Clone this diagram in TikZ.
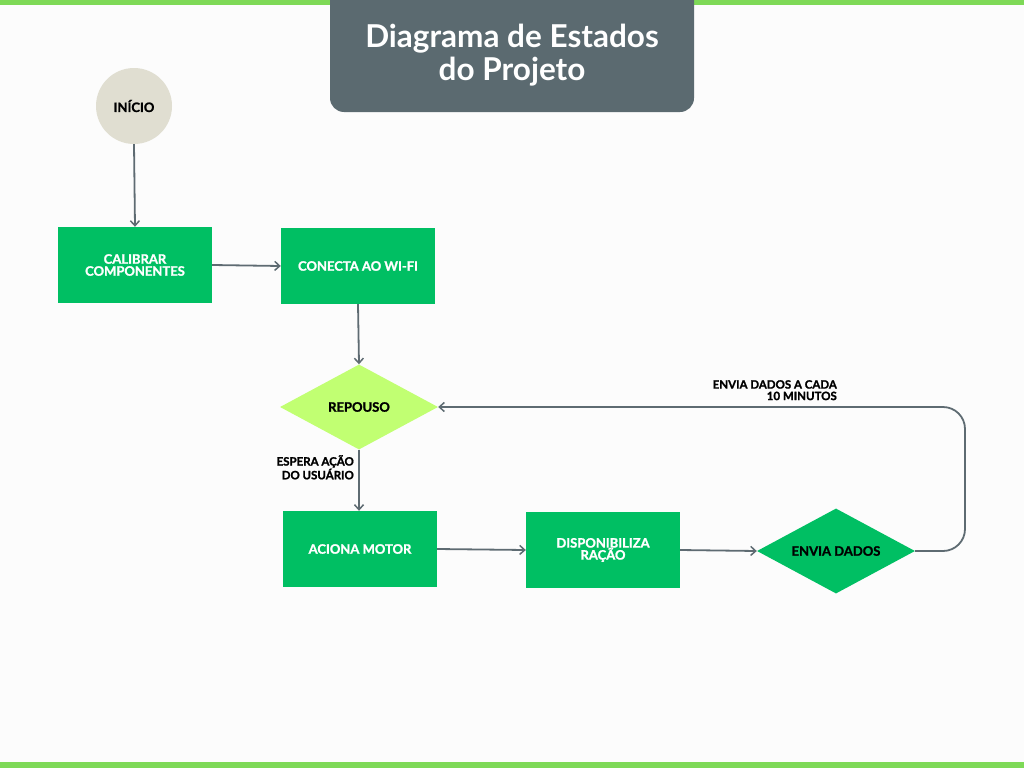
\documentclass[tikz,border=0pt]{standalone}
\usepackage{fontspec}
\setmainfont{Lato}
\newfontfamily\heavy[FakeBold=1.3]{Lato}
\usetikzlibrary{arrows.meta,shapes.geometric}
\definecolor{bargreen}{HTML}{7ED957}
\definecolor{titlegray}{HTML}{5B6A70}
\definecolor{boxgreen}{HTML}{00BF63}
\definecolor{lime}{HTML}{C1FF72}
\definecolor{beige}{HTML}{E0DED1}
\definecolor{linegray}{HTML}{5E6B72}
\begin{document}
\begin{tikzpicture}[x=1pt,y=-1pt,
  stepbox/.style={rectangle,fill=boxgreen,minimum width=154pt,minimum height=76pt,inner sep=0pt,
    text=white,font=\fontsize{13}{12}\selectfont\heavy\bfseries,align=center},
  decbox/.style={diamond,aspect=1.86,minimum width=158pt,minimum height=85pt,inner sep=0pt,
    font=\fontsize{13}{12}\selectfont\heavy\bfseries,align=center},
  conn/.style={draw=linegray,line width=1.8pt,-{Straight Barb[length=5pt,width=9pt,line width=1.5pt]}},
  lbl/.style={font=\fontsize{11.5}{11.5}\selectfont\heavy\bfseries,align=right,inner sep=0pt}]
\useasboundingbox (0,0) rectangle (1024,768);
\fill[white!99!black] (0,0) rectangle (1024,768);
\fill[bargreen] (0,0) rectangle (1024,5);
\fill[bargreen] (0,762) rectangle (1024,768);
\fill[titlegray,rounded corners=14pt] (330,-20) rectangle (694,112);
\node[text=white,font=\fontsize{31.5}{33}\selectfont\bfseries,align=center] (title) at (512,55) {Diagrama de Estados\\do Projeto};

\node[circle,fill=beige,minimum size=76pt,inner sep=0pt,font=\fontsize{13}{12}\selectfont\heavy\bfseries] (ini) at (134,106) {INÍCIO};
\node[stepbox] (cal) at (135,265) {CALIBRAR\\COMPONENTES};
\node[stepbox] (con) at (358,266) {CONECTA AO WI-FI};
\node[decbox,fill=lime] (rep) at (359,407) {REPOUSO};
\node[stepbox] (aci) at (360,549) {ACIONA MOTOR};
\node[stepbox] (dis) at (603,550) {DISPONIBILIZA\\RAÇÃO};
\node[decbox,fill=boxgreen] (env) at (836,551) {ENVIA DADOS};

\draw[conn] (ini.south) -- (cal.north);
\draw[conn] (cal.east) -- (con.west);
\draw[conn] (con.south) -- (rep.north);
\draw[conn] (rep.south) -- (rep.south |- aci.north);
\draw[conn] (aci.east) -- (dis.west);
\draw[conn] (dis.east) -- (env.west);
\coordinate (c1) at (965,551);
\coordinate (c2) at (965,407);
\draw[conn,rounded corners=22pt] (env.east) -- (c1) -- (c2) -- (rep.east);

\node[lbl,anchor=north east] (l1) at (354,455) {ESPERA AÇÃO\\DO USUÁRIO};
\node[lbl,anchor=north east] (l2) at (837,380) {ENVIA DADOS A CADA\\10 MINUTOS};
\end{tikzpicture}
\end{document}
